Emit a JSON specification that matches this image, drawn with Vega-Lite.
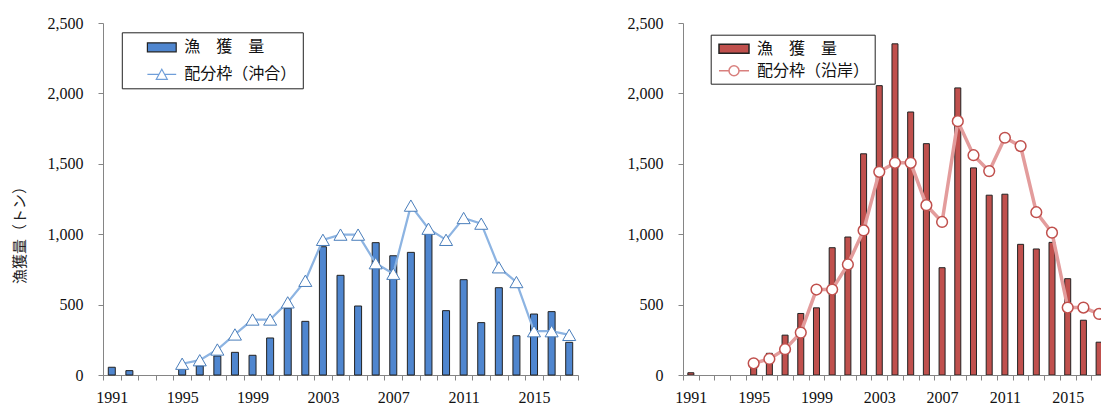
{
  "$schema": "https://vega.github.io/schema/vega-lite/v6.json",
  "background": "white",
  "padding": {"left": 12, "top": 15, "right": 0, "bottom": 0},
  "spacing": 48,
  "datasets": {
    "offshore": [
      {"year": 1991, "series": "漁　獲　量", "value": 55},
      {"year": 1992, "series": "漁　獲　量", "value": 31},
      {"year": 1995, "series": "漁　獲　量", "value": 40},
      {"year": 1996, "series": "漁　獲　量", "value": 65},
      {"year": 1997, "series": "漁　獲　量", "value": 135},
      {"year": 1998, "series": "漁　獲　量", "value": 161},
      {"year": 1999, "series": "漁　獲　量", "value": 140},
      {"year": 2000, "series": "漁　獲　量", "value": 263},
      {"year": 2001, "series": "漁　獲　量", "value": 474},
      {"year": 2002, "series": "漁　獲　量", "value": 381},
      {"year": 2003, "series": "漁　獲　量", "value": 911},
      {"year": 2004, "series": "漁　獲　量", "value": 708},
      {"year": 2005, "series": "漁　獲　量", "value": 490},
      {"year": 2006, "series": "漁　獲　量", "value": 940},
      {"year": 2007, "series": "漁　獲　量", "value": 847},
      {"year": 2008, "series": "漁　獲　量", "value": 871},
      {"year": 2009, "series": "漁　獲　量", "value": 1030},
      {"year": 2010, "series": "漁　獲　量", "value": 457},
      {"year": 2011, "series": "漁　獲　量", "value": 677},
      {"year": 2012, "series": "漁　獲　量", "value": 372},
      {"year": 2013, "series": "漁　獲　量", "value": 620},
      {"year": 2014, "series": "漁　獲　量", "value": 279},
      {"year": 2015, "series": "漁　獲　量", "value": 433},
      {"year": 2016, "series": "漁　獲　量", "value": 450},
      {"year": 2017, "series": "漁　獲　量", "value": 232},
      {"year": 1995, "series": "配分枠（沖合）", "value": 80},
      {"year": 1996, "series": "配分枠（沖合）", "value": 105},
      {"year": 1997, "series": "配分枠（沖合）", "value": 181},
      {"year": 1998, "series": "配分枠（沖合）", "value": 288},
      {"year": 1999, "series": "配分枠（沖合）", "value": 394},
      {"year": 2000, "series": "配分枠（沖合）", "value": 394},
      {"year": 2001, "series": "配分枠（沖合）", "value": 516},
      {"year": 2002, "series": "配分枠（沖合）", "value": 669},
      {"year": 2003, "series": "配分枠（沖合）", "value": 960},
      {"year": 2004, "series": "配分枠（沖合）", "value": 997},
      {"year": 2005, "series": "配分枠（沖合）", "value": 997},
      {"year": 2006, "series": "配分枠（沖合）", "value": 794},
      {"year": 2007, "series": "配分枠（沖合）", "value": 719},
      {"year": 2008, "series": "配分枠（沖合）", "value": 1203},
      {"year": 2009, "series": "配分枠（沖合）", "value": 1039},
      {"year": 2010, "series": "配分枠（沖合）", "value": 960},
      {"year": 2011, "series": "配分枠（沖合）", "value": 1115},
      {"year": 2012, "series": "配分枠（沖合）", "value": 1075},
      {"year": 2013, "series": "配分枠（沖合）", "value": 765},
      {"year": 2014, "series": "配分枠（沖合）", "value": 660},
      {"year": 2015, "series": "配分枠（沖合）", "value": 311},
      {"year": 2016, "series": "配分枠（沖合）", "value": 311},
      {"year": 2017, "series": "配分枠（沖合）", "value": 285}
    ],
    "coastal": [
      {"year": 1991, "series": "漁　獲　量", "value": 16},
      {"year": 1995, "series": "漁　獲　量", "value": 75},
      {"year": 1996, "series": "漁　獲　量", "value": 154},
      {"year": 1997, "series": "漁　獲　量", "value": 283},
      {"year": 1998, "series": "漁　獲　量", "value": 437},
      {"year": 1999, "series": "漁　獲　量", "value": 477},
      {"year": 2000, "series": "漁　獲　量", "value": 904},
      {"year": 2001, "series": "漁　獲　量", "value": 980},
      {"year": 2002, "series": "漁　獲　量", "value": 1571},
      {"year": 2003, "series": "漁　獲　量", "value": 2055},
      {"year": 2004, "series": "漁　獲　量", "value": 2352},
      {"year": 2005, "series": "漁　獲　量", "value": 1868},
      {"year": 2006, "series": "漁　獲　量", "value": 1643},
      {"year": 2007, "series": "漁　獲　量", "value": 762},
      {"year": 2008, "series": "漁　獲　量", "value": 2039},
      {"year": 2009, "series": "漁　獲　量", "value": 1471},
      {"year": 2010, "series": "漁　獲　量", "value": 1277},
      {"year": 2011, "series": "漁　獲　量", "value": 1284},
      {"year": 2012, "series": "漁　獲　量", "value": 928},
      {"year": 2013, "series": "漁　獲　量", "value": 895},
      {"year": 2014, "series": "漁　獲　量", "value": 942},
      {"year": 2015, "series": "漁　獲　量", "value": 684},
      {"year": 2016, "series": "漁　獲　量", "value": 389},
      {"year": 2017, "series": "漁　獲　量", "value": 233},
      {"year": 1995, "series": "配分枠（沿岸）", "value": 83},
      {"year": 1996, "series": "配分枠（沿岸）", "value": 114},
      {"year": 1997, "series": "配分枠（沿岸）", "value": 183},
      {"year": 1998, "series": "配分枠（沿岸）", "value": 301},
      {"year": 1999, "series": "配分枠（沿岸）", "value": 607},
      {"year": 2000, "series": "配分枠（沿岸）", "value": 607},
      {"year": 2001, "series": "配分枠（沿岸）", "value": 785},
      {"year": 2002, "series": "配分枠（沿岸）", "value": 1027},
      {"year": 2003, "series": "配分枠（沿岸）", "value": 1443},
      {"year": 2004, "series": "配分枠（沿岸）", "value": 1507},
      {"year": 2005, "series": "配分枠（沿岸）", "value": 1507},
      {"year": 2006, "series": "配分枠（沿岸）", "value": 1206},
      {"year": 2007, "series": "配分枠（沿岸）", "value": 1087},
      {"year": 2008, "series": "配分枠（沿岸）", "value": 1803},
      {"year": 2009, "series": "配分枠（沿岸）", "value": 1561},
      {"year": 2010, "series": "配分枠（沿岸）", "value": 1448},
      {"year": 2011, "series": "配分枠（沿岸）", "value": 1685},
      {"year": 2012, "series": "配分枠（沿岸）", "value": 1626},
      {"year": 2013, "series": "配分枠（沿岸）", "value": 1156},
      {"year": 2014, "series": "配分枠（沿岸）", "value": 1011},
      {"year": 2015, "series": "配分枠（沿岸）", "value": 479},
      {"year": 2016, "series": "配分枠（沿岸）", "value": 479},
      {"year": 2017, "series": "配分枠（沿岸）", "value": 434}
    ]
  },
  "resolve": {
    "scale": {"fill": "independent", "stroke": "independent", "shape": "independent"},
    "legend": {"fill": "independent", "stroke": "independent", "shape": "independent"}
  },
  "hconcat": [
    {
      "width": 475,
      "height": 352,
      "data": {"name": "offshore"},
      "encoding": {
        "y": {
          "field": "value", "type": "quantitative",
          "scale": {"domain": [0, 2500], "nice": false},
          "axis": {
            "title": "漁獲量（トン）",
            "values": [0, 500, 1000, 1500, 2000, 2500],
            "format": ",d",
            "grid": false,
            "tickSize": 5,
            "labelPadding": 15,
            "titleX": -84,
            "titleY": 208,
            "titleAngle": -90,
            "titleAlign": "center",
            "titleBaseline": "middle",
            "titleFont": "Noto Sans CJK JP",
            "titleFontSize": 15,
            "titleFontWeight": "normal",
            "titleColor": "#222"
          }
        }
      },
      "layer": [
        {
          "transform": [{"filter": "datum.series === '漁　獲　量'"}],
          "mark": {"type": "bar", "width": 7, "fill": "#4F86CF", "stroke": "#222", "strokeWidth": 1},
          "encoding": {
            "x": {
              "field": "year", "type": "quantitative",
              "scale": {"domain": [1990.5, 2017.5], "nice": false, "zero": false, "padding": 0},
              "axis": {
                "orient": "bottom",
                "title": null, "labels": false, "grid": false, "tickSize": 5,
                "values": [1990.5,1991.5,1992.5,1993.5,1994.5,1995.5,1996.5,1997.5,1998.5,1999.5,2000.5,2001.5,2002.5,2003.5,2004.5,2005.5,2006.5,2007.5,2008.5,2009.5,2010.5,2011.5,2012.5,2013.5,2014.5,2015.5,2016.5,2017.5]
              }
            }
          }
        },
        {
          "transform": [{"filter": "datum.series === '配分枠（沖合）'"}],
          "mark": {"type": "line", "stroke": "#8DB4E2", "strokeWidth": 2.25},
          "encoding": {
            "x": {
              "field": "year", "type": "quantitative",
              "scale": {"domain": [1990.5, 2017.5], "nice": false, "zero": false, "padding": 0},
              "axis": {
                "orient": "bottom",
                "title": null, "ticks": false, "tickSize": 0, "domain": false, "grid": false,
                "labelPadding": 14, "format": "d", "labelFlush": false, "labelOverlap": false,
                "values": [1991, 1995, 1999, 2003, 2007, 2011, 2015]
              }
            }
          }
        },
        {
          "transform": [{"filter": "datum.series === '配分枠（沖合）'"}],
          "mark": {"type": "point", "shape": "triangle-up", "size": 170, "filled": true, "fill": "white", "stroke": "#4A7EBB", "strokeWidth": 1, "opacity": 1},
          "encoding": {
            "x": {
              "field": "year", "type": "quantitative",
              "scale": {"domain": [1990.5, 2017.5], "nice": false, "zero": false, "padding": 0},
              "axis": null
            }
          }
        },
        {
          "transform": [{"filter": "false"}],
          "mark": {"type": "point", "filled": true, "strokeWidth": 1.2, "opacity": 1},
          "encoding": {
            "x": {
              "field": "year", "type": "quantitative",
              "scale": {"domain": [1990.5, 2017.5], "nice": false, "zero": false, "padding": 0},
              "axis": null
            },
            "shape": {
              "field": "series", "type": "nominal",
              "scale": {"domain": ["漁　獲　量", "配分枠（沖合）"], "range": ["M-1.8,-0.56H1.8V0.56H-1.8Z", "M-1.8,0H-0.35M0.35,0H1.8M0,-0.625L0.69,0.625H-0.69Z"]},
              "legend": {
                "title": null,
                "orient": "none",
                "legendX": 18.8,
                "legendY": 9.3,
                "padding": 6,
                "strokeColor": "#222",
                "fillColor": "white",
                "symbolSize": 256,
                "symbolStrokeWidth": 1.2,
                "symbolOpacity": 1,
                "symbolOffset": 25,
                "labelOffset": 13.5,
                "rowPadding": 10,
                "labelFont": "Noto Sans CJK JP",
                "labelFontSize": 16,
                "labelColor": "#111"
              }
            },
            "fill": {
              "field": "series", "type": "nominal",
              "scale": {"domain": ["漁　獲　量", "配分枠（沖合）"], "range": ["#4F86CF", "white"]},
              "legend": {"title": null}
            },
            "stroke": {
              "field": "series", "type": "nominal",
              "scale": {"domain": ["漁　獲　量", "配分枠（沖合）"], "range": ["#222", "#6F9ED9"]},
              "legend": {"title": null}
            }
          }
        }
      ],
      "resolve": {"axis": {"x": "independent"}}
    },
    {
      "width": 418,
      "height": 352,
      "data": {"name": "coastal"},
      "encoding": {
        "y": {
          "field": "value", "type": "quantitative",
          "scale": {"domain": [0, 2500], "nice": false},
          "axis": {
            "title": null,
            "values": [0, 500, 1000, 1500, 2000, 2500],
            "format": ",d",
            "grid": false,
            "tickSize": 5,
            "labelPadding": 15
          }
        }
      },
      "layer": [
        {
          "transform": [{"filter": "datum.series === '漁　獲　量'"}],
          "mark": {"type": "bar", "width": 6, "fill": "#C0504D", "stroke": "#222", "strokeWidth": 1, "clip": true},
          "encoding": {
            "x": {
              "field": "year", "type": "quantitative",
              "scale": {"domain": [1990.5, 2017.12], "nice": false, "zero": false, "padding": 0},
              "axis": {
                "orient": "bottom",
                "title": null, "labels": false, "grid": false, "tickSize": 5,
                "values": [1990.5,1991.5,1992.5,1993.5,1994.5,1995.5,1996.5,1997.5,1998.5,1999.5,2000.5,2001.5,2002.5,2003.5,2004.5,2005.5,2006.5,2007.5,2008.5,2009.5,2010.5,2011.5,2012.5,2013.5,2014.5,2015.5,2016.5]
              }
            }
          }
        },
        {
          "transform": [{"filter": "datum.series === '配分枠（沿岸）'"}],
          "mark": {"type": "line", "stroke": "#E39C9C", "strokeWidth": 3.5, "clip": true},
          "encoding": {
            "x": {
              "field": "year", "type": "quantitative",
              "scale": {"domain": [1990.5, 2017.12], "nice": false, "zero": false, "padding": 0},
              "axis": {
                "orient": "bottom",
                "title": null, "ticks": false, "tickSize": 0, "domain": false, "grid": false,
                "labelPadding": 14, "format": "d", "labelFlush": false, "labelOverlap": false,
                "values": [1991, 1995, 1999, 2003, 2007, 2011, 2015]
              }
            }
          }
        },
        {
          "transform": [{"filter": "datum.series === '配分枠（沿岸）'"}],
          "mark": {"type": "point", "shape": "circle", "size": 115, "filled": true, "fill": "white", "stroke": "#C0504D", "strokeWidth": 1.5, "opacity": 1, "clip": true},
          "encoding": {
            "x": {
              "field": "year", "type": "quantitative",
              "scale": {"domain": [1990.5, 2017.12], "nice": false, "zero": false, "padding": 0},
              "axis": null
            }
          }
        },
        {
          "transform": [{"filter": "false"}],
          "mark": {"type": "point", "filled": true, "strokeWidth": 1.5, "opacity": 1},
          "encoding": {
            "x": {
              "field": "year", "type": "quantitative",
              "scale": {"domain": [1990.5, 2017.12], "nice": false, "zero": false, "padding": 0},
              "axis": null
            },
            "shape": {
              "field": "series", "type": "nominal",
              "scale": {"domain": ["漁　獲　量", "配分枠（沿岸）"], "range": ["M-1.875,-0.56H1.875V0.56H-1.875Z", "M-1.875,0H-0.625M0.625,0H1.875M0.625,0A0.625,0.625 0 1,1 -0.625,0A0.625,0.625 0 1,1 0.625,0Z"]},
              "legend": {
                "title": null,
                "orient": "none",
                "legendX": 27.7,
                "legendY": 11.7,
                "padding": 5,
                "strokeColor": "#222",
                "fillColor": "white",
                "symbolSize": 256,
                "symbolStrokeWidth": 1.5,
                "symbolOpacity": 1,
                "symbolOffset": 9.3,
                "labelOffset": 14,
                "rowPadding": 5,
                "labelFont": "Noto Sans CJK JP",
                "labelFontSize": 16,
                "labelColor": "#111"
              }
            },
            "fill": {
              "field": "series", "type": "nominal",
              "scale": {"domain": ["漁　獲　量", "配分枠（沿岸）"], "range": ["#C0504D", "white"]},
              "legend": {"title": null}
            },
            "stroke": {
              "field": "series", "type": "nominal",
              "scale": {"domain": ["漁　獲　量", "配分枠（沿岸）"], "range": ["#222", "#D9807E"]},
              "legend": {"title": null}
            }
          }
        }
      ],
      "resolve": {"axis": {"x": "independent"}}
    }
  ],
  "config": {
    "view": {"stroke": null},
    "axis": {
      "domainColor": "#858585",
      "tickColor": "#858585",
      "domainWidth": 1,
      "tickWidth": 1,
      "labelFont": "Liberation Serif, Times New Roman, Times, DejaVu Serif, serif",
      "labelFontSize": 16,
      "labelColor": "#111"
    }
  }
}
